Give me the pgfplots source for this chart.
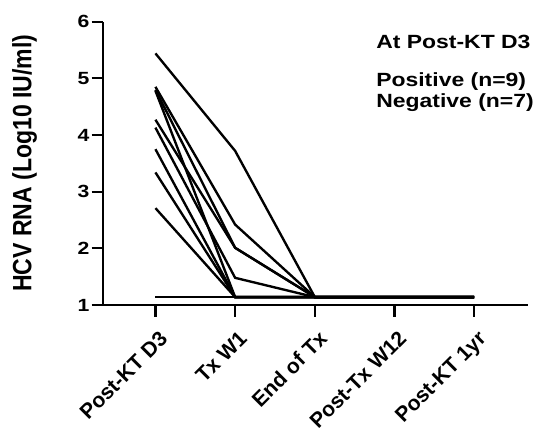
\documentclass[border=0pt]{standalone}
\usepackage{pgfplots}
\pgfplotsset{compat=1.18}
\usepackage{fontspec}
\setmainfont{Liberation Sans}
\newfontfamily\widefont[FakeStretch=1.2]{Liberation Sans}

\begin{document}
\bfseries
\begin{tikzpicture}
\begin{axis}[
    scale only axis,
    width=432bp,
    height=288bp,
    xmin=-0.654, xmax=4.68,
    ymin=1, ymax=6,
    axis x line=bottom,
    axis y line=left,
    axis line style={line width=2.2bp,-},
    every tick/.style={line width=2.2bp,black},
    tick align=outside,
    major tick length=12bp,
    xtick={0,1,2,3,4},
    xticklabels={Post-KT D3, Tx W1, End of Tx, Post-Tx W12, Post-KT 1yr},
    xticklabel style={rotate=45, anchor=north east, inner sep=1bp, yshift=-10bp, xshift=-6bp, font=\fontsize{21.5}{23}\selectfont\bfseries},
    ytick={1,2,3,4,5,6},
    yticklabel style={font=\fontsize{18}{20}\selectfont\widefont\bfseries, inner sep=2bp},
    /pgf/number format/assume math mode=true,
    ylabel={\scalebox{1}[1.15]{HCV RNA (Log10 IU/ml)}},
    ylabel style={font=\fontsize{23.5}{26}\selectfont\bfseries, at={(rel axis cs:0,0.5)}, anchor=center, yshift=80bp},
    ser/.style={black, solid, line width=2.4bp, mark=none},
    clip=false,
]
% Positive at Post-KT D3 (n=9)
\addplot[ser] coordinates {(0,5.44) (1,3.72) (2,1.14) (3,1.14) (4,1.14)};
\addplot[ser] coordinates {(0,4.85) (1,2.42) (2,1.14) (3,1.14) (4,1.14)};
\addplot[ser] coordinates {(0,4.80) (1,2.01) (2,1.14) (3,1.14) (4,1.14)};
\addplot[ser] coordinates {(0,4.78) (1,1.14) (2,1.14) (3,1.14) (4,1.14)};
\addplot[ser] coordinates {(0,4.27) (1,2.01) (2,1.14) (3,1.14) (4,1.14)};
\addplot[ser] coordinates {(0,4.13) (1,1.48) (2,1.14) (3,1.14) (4,1.14)};
\addplot[ser] coordinates {(0,3.75) (1,1.14) (2,1.14) (3,1.14) (4,1.14)};
\addplot[ser] coordinates {(0,3.34) (1,1.14) (2,1.14) (3,1.14) (4,1.14)};
\addplot[ser] coordinates {(0,2.71) (1,1.14) (2,1.14) (3,1.14) (4,1.14)};
% Negative at Post-KT D3 (n=7)
\addplot[ser] coordinates {(0,1.14) (1,1.14) (2,1.14) (3,1.14) (4,1.14)};

\node[anchor=west, font=\fontsize{19.5}{21}\selectfont\widefont\bfseries] at (rel axis cs:0.634,0.93) {At Post-KT D3};
\node[anchor=west, font=\fontsize{19.5}{21}\selectfont\widefont\bfseries] at (rel axis cs:0.634,0.787) {Positive (n=9)};
\node[anchor=west, font=\fontsize{19.5}{21}\selectfont\widefont\bfseries] at (rel axis cs:0.634,0.716) {Negative (n=7)};
\coordinate (bl) at (rel axis cs:0,0);
\coordinate (tr) at (rel axis cs:1,1);
\end{axis}
\path ([xshift=-105bp,yshift=-123bp]bl) rectangle ([yshift=22bp]tr);
\end{tikzpicture}
\end{document}
